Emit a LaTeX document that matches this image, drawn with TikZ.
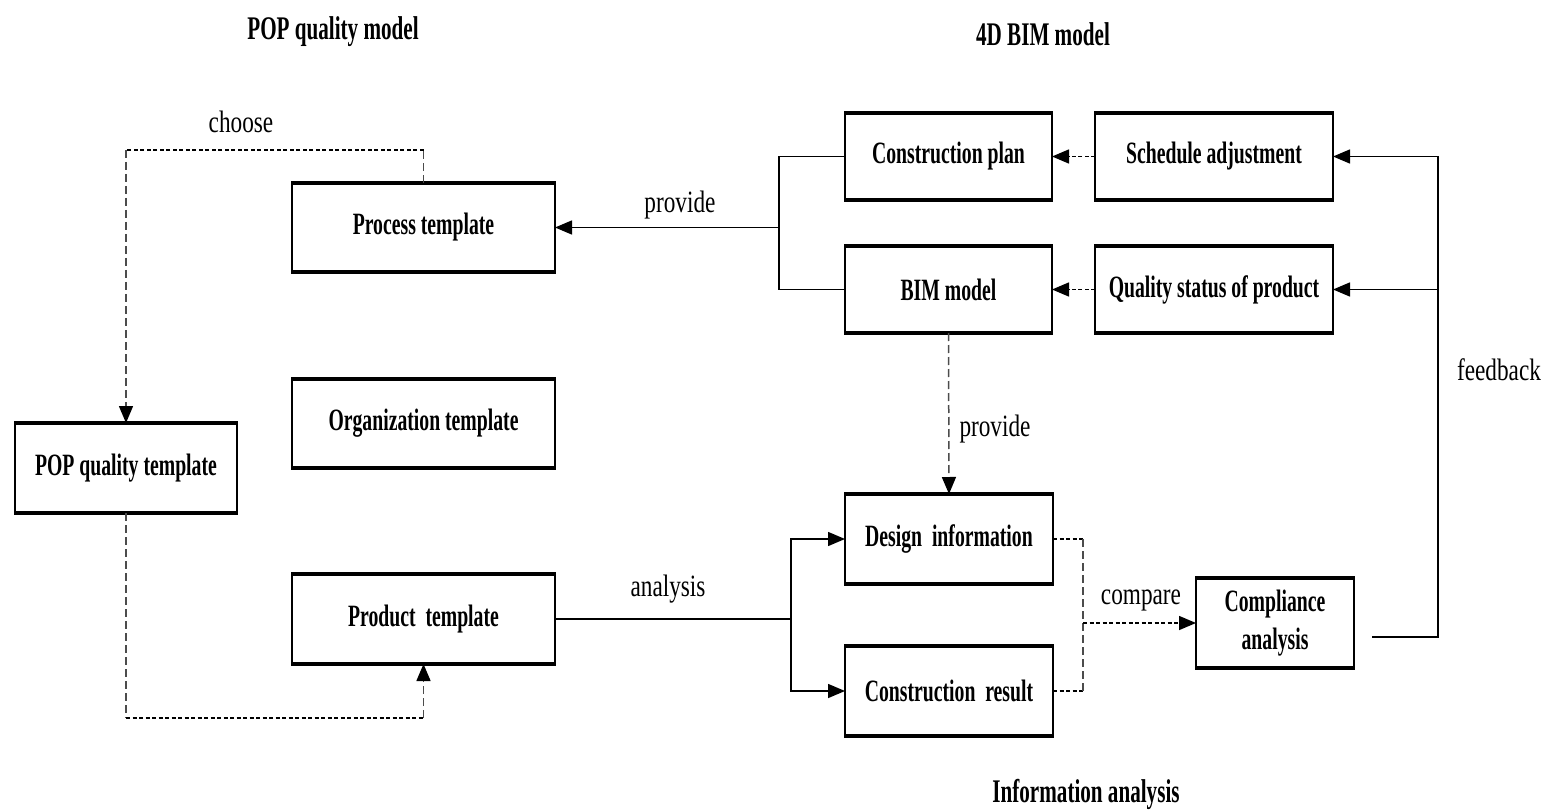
\documentclass[tikz,border=0pt]{standalone}
\usepackage{fontspec}
\usetikzlibrary{arrows.meta}
\newfontfamily\boxfont{Liberation Serif}[FakeStretch=0.636]
\newfontfamily\labfont{Liberation Serif}[FakeStretch=0.75]
\newfontfamily\ttlfont{Liberation Serif}[FakeStretch=0.64]

\tikzset{
  blk/.style={draw, line width=2pt, outer sep=0pt, inner sep=0pt, align=center,
    font=\boxfont\bfseries\fontsize{31}{38}\selectfont},
  lab/.style={anchor=base, inner sep=0pt, font=\labfont\fontsize{31}{36}\selectfont},
  ttl/.style={anchor=base, inner sep=0pt, font=\ttlfont\bfseries\fontsize{33}{40}\selectfont},
  con/.style={line width=1.5pt},
  tip/.style={-{Triangle[length=17pt,width=14pt,color=black]}},
  dashH/.style={line width=1.5pt, dash pattern=on 4pt off 2.5pt},
  dashV/.style={line width=1.5pt, black!70, dash pattern=on 8pt off 4pt},
}

\begin{document}
\begin{tikzpicture}[x=1pt,y=-1pt]
\useasboundingbox (0,0) rectangle (1544,810);

% titles
\node[ttl] (tPOP) at (333,40) {POP quality model};
\node[ttl] (tBIM) at (1043,46) {4D BIM model};
\node[ttl] (tINF) at (1086,802) {Information analysis};

% template boxes
\node[blk, minimum width=263, minimum height=89] (proc) at (423.5,227.5) {Process template};
\node[blk, minimum width=263, minimum height=89] (org)  at (423.5,423.5) {Organization template};
\node[blk, minimum width=263, minimum height=90] (prod) at (423.5,619) {Product\ \ template};
\node[blk, minimum width=222, minimum height=90] (pqt)  at (126,468) {POP quality template};

% 4D BIM boxes
\node[blk, minimum width=207, minimum height=87] (cplan) at (948.5,156.5) {Construction plan};
\node[blk, minimum width=238, minimum height=87] (sched) at (1214,156.5) {Schedule adjustment};
\node[blk, minimum width=207, minimum height=87] (bim)   at (948.5,289.5) {BIM model};
\node[blk, minimum width=238, minimum height=87] (qual)  at (1214,289.5) {Quality status of product};

% information analysis boxes
\node[blk, minimum width=208, minimum height=90] (design) at (949,539) {Design\ \ information};
\node[blk, minimum width=208, minimum height=90] (cres)   at (949,691) {Construction\ \ result};
\node[blk, minimum width=158, minimum height=90] (comp)   at (1275,623) {Compliance\\analysis};

% heavier top and bottom edges of the boxes
\foreach \n in {proc,org,prod,pqt,cplan,sched,bim,qual,design,cres,comp}{
  \draw[line width=3.5pt, shorten <=-1pt, shorten >=-1pt] (\n.north west) -- (\n.north east);
  \draw[line width=3.5pt, shorten <=-1pt, shorten >=-1pt] (\n.south west) -- (\n.south east);
}

% choose loop
\coordinate (c1) at (423.5,150);
\coordinate (c2) at (126,150);
\draw[dashV] (proc.north) -- (c1);
\draw[dashH] (c1) -- (c2);
\draw[dashV, tip] (c2) -- (pqt.north);
\node[lab] (lchoose) at (241,133) {choose};

% POP template to product template
\coordinate (b1) at (126,718);
\coordinate (b2) at (423.5,718);
\draw[dashV] (pqt.south) -- (b1);
\draw[dashH] (b1) -- (b2);
\draw[dashV, tip] (b2) -- (prod.south);

% provide: construction plan and BIM model to process template
\coordinate (jL) at (779,227.5);
\draw[con] (cplan.west) -| (jL) |- (bim.west);
\draw[con, tip] (jL) -- (proc.east);
\node[lab] (lprov1) at (680,213) {provide};

% schedule and quality status
\draw[dashH, tip] (sched.west) -- (cplan.east);
\draw[dashH, tip] (qual.west) -- (bim.east);

% BIM model provides design information
\draw[dashV, tip] (bim.south) -- (design.north);
\node[lab] (lprov2) at (995,436) {provide};

% analysis of the product template
\coordinate (jR) at (791,619);
\draw[con] (prod.east) -- (jR);
\draw[con, tip] (jR) |- (design.west);
\draw[con, tip] (jR) |- (cres.west);
\node[lab] (lanal) at (668,596) {analysis};

% compare
\coordinate (cmp) at (1083,623);
\draw[dashH] (design.east) -- (design.east -| cmp);
\draw[dashH] (cres.east) -- (cres.east -| cmp);
\draw[dashV] (design.east -| cmp) -- (cres.east -| cmp);
\draw[dashH, tip] (cmp) -- (comp.west);
\node[lab] (lcomp) at (1141,604) {compare};

% feedback
\coordinate (fbS) at (1372,637);
\coordinate (fbT) at (1438,156.5);
\coordinate (fbM) at (1438,289.5);
\draw[con] (fbS) -| (fbT);
\draw[con, tip] (fbT) -- (sched.east);
\draw[con, tip] (fbM) -- (qual.east);
\node[lab] (lfb) at (1499,380) {feedback};
\end{tikzpicture}
\end{document}
